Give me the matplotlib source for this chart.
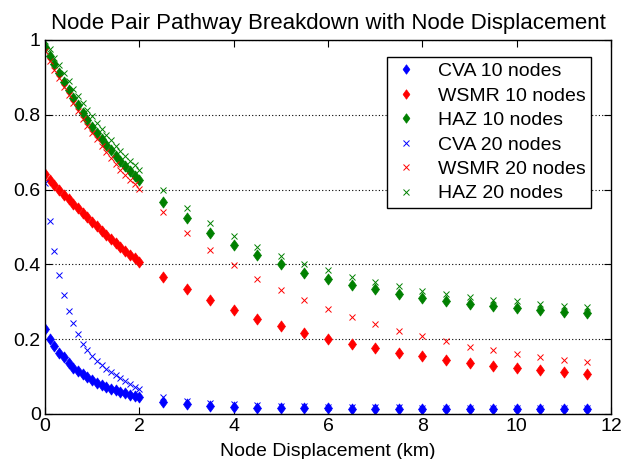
import numpy as np
import matplotlib
matplotlib.use("Agg")
import matplotlib.pyplot as plt
from matplotlib.path import Path

plt.rcParams['font.family'] = ['Liberation Sans', 'DejaVu Sans']

# x positions (km)
x_dense = [0.0, 0.1, 0.2, 0.3, 0.4, 0.5, 0.6, 0.7, 0.8, 0.9, 1.0,
           1.1, 1.2, 1.3, 1.4, 1.5, 1.6, 1.7, 1.8, 1.9, 2.0]
x_sparse = [2.5, 3.0, 3.5, 4.0, 4.5, 5.0, 5.5, 6.0, 6.5, 7.0, 7.5,
            8.0, 8.5, 9.0, 9.5, 10.0, 10.5, 11.0, 11.5]

cva10 = [0.227, 0.200, 0.182, 0.164, 0.152, 0.136, 0.124, 0.115, 0.107, 0.098, 0.091,
         0.084, 0.078, 0.073, 0.068, 0.064, 0.060, 0.055, 0.052, 0.048, 0.046,
         0.033, 0.026, 0.022, 0.018, 0.017, 0.016, 0.016, 0.015, 0.014, 0.014, 0.014,
         0.013, 0.013, 0.013, 0.013, 0.013, 0.013, 0.013, 0.013]
wsmr10 = [0.642, 0.625, 0.611, 0.598, 0.586, 0.574, 0.562, 0.550, 0.538, 0.526, 0.514,
          0.502, 0.490, 0.478, 0.467, 0.456, 0.446, 0.436, 0.426, 0.416, 0.407,
          0.366, 0.334, 0.305, 0.277, 0.254, 0.236, 0.217, 0.200, 0.187, 0.176, 0.163,
          0.155, 0.144, 0.136, 0.129, 0.122, 0.118, 0.112, 0.106]
haz10 = [0.982, 0.958, 0.935, 0.912, 0.889, 0.867, 0.846, 0.826, 0.806, 0.787, 0.768,
         0.752, 0.736, 0.720, 0.705, 0.690, 0.677, 0.663, 0.650, 0.637, 0.625,
         0.568, 0.524, 0.484, 0.451, 0.424, 0.402, 0.378, 0.361, 0.345, 0.335, 0.321,
         0.310, 0.301, 0.294, 0.290, 0.283, 0.278, 0.272, 0.271]
cva20 = [0.618, 0.517, 0.435, 0.372, 0.319, 0.276, 0.242, 0.213, 0.187, 0.170, 0.155,
         0.142, 0.131, 0.120, 0.111, 0.103, 0.095, 0.087, 0.080, 0.073, 0.066,
         0.045, 0.035, 0.030, 0.026, 0.024, 0.022, 0.021, 0.020, 0.019, 0.018, 0.018,
         0.017, 0.017, 0.017, 0.016, 0.016, 0.016, 0.016, 0.016]
wsmr20 = [0.970, 0.945, 0.921, 0.898, 0.875, 0.852, 0.831, 0.810, 0.790, 0.771, 0.752,
          0.734, 0.717, 0.700, 0.684, 0.668, 0.653, 0.640, 0.627, 0.614, 0.602,
          0.540, 0.484, 0.439, 0.399, 0.361, 0.332, 0.305, 0.281, 0.259, 0.241, 0.221,
          0.209, 0.195, 0.180, 0.171, 0.161, 0.152, 0.145, 0.138]
haz20 = [0.998, 0.975, 0.953, 0.932, 0.911, 0.890, 0.870, 0.851, 0.832, 0.814, 0.796,
         0.779, 0.763, 0.747, 0.732, 0.717, 0.703, 0.690, 0.677, 0.665, 0.653,
         0.600, 0.552, 0.512, 0.477, 0.446, 0.423, 0.402, 0.384, 0.366, 0.354, 0.341,
         0.329, 0.321, 0.314, 0.305, 0.301, 0.294, 0.290, 0.287]

labels10 = ['CVA 10 nodes', 'WSMR 10 nodes', 'HAZ 10 nodes']
labels20 = ['CVA 20 nodes', 'WSMR 20 nodes', 'HAZ 20 nodes']
colors = ['#0000ff', '#ff0000', '#008000']
x_ticks = [0, 2, 4, 6, 8, 10, 12]
y_ticks = [0, 0.2, 0.4, 0.6, 0.8, 1.0]
y_ticklabels = ['0', '0.2', '0.4', '0.6', '0.8', '1']

x_all = x_dense + x_sparse

# MATLAB-like diamond (taller than wide)
diamond = Path([(0, 1), (0.72, 0), (0, -1), (-0.72, 0), (0, 1)],
               [Path.MOVETO, Path.LINETO, Path.LINETO, Path.LINETO, Path.CLOSEPOLY])

fig = plt.figure(figsize=(6.26, 4.59), dpi=100)
ax = fig.add_axes([45/626, 45/459, (611-45)/626, (414-40)/459])

for y, lab, c in zip([cva10, wsmr10, haz10], labels10, colors):
    ax.plot(x_all, y, linestyle='none', marker=diamond, markersize=8,
            color=c, markeredgecolor=c, markeredgewidth=0.5, label=lab)
for y, lab, c in zip([cva20, wsmr20, haz20], labels20, colors):
    ax.plot(x_all, y, linestyle='none', marker='x', markersize=5,
            markeredgewidth=0.7, color=c, label=lab)

ax.set_xlim(0, 12)
ax.set_ylim(0, 1)
ax.set_xticks(x_ticks)
ax.set_yticks(y_ticks)
ax.set_yticklabels(y_ticklabels)
ax.tick_params(direction='in', top=True, right=True, labelsize=14, length=5, pad=3)
ax.yaxis.grid(True, linestyle=(0, (1, 2)), color='black', linewidth=0.8)
ax.set_axisbelow(True)
for s in ax.spines.values():
    s.set_linewidth(1.0)

ax.set_title('Node Pair Pathway Breakdown with Node Displacement', fontsize=16, pad=8)
ax.set_xlabel('Node Displacement (km)', fontsize=14, labelpad=6)

leg = ax.legend(loc='upper right', bbox_to_anchor=(0.965, 0.955), fontsize=14,
                frameon=True, fancybox=False, edgecolor='black', framealpha=1,
                handlelength=1.3, handletextpad=1.0, borderpad=0.3, labelspacing=0.35,
                borderaxespad=0, markerscale=0.85)
leg.get_frame().set_linewidth(1.0)

fig.savefig('out.png', dpi=100)
